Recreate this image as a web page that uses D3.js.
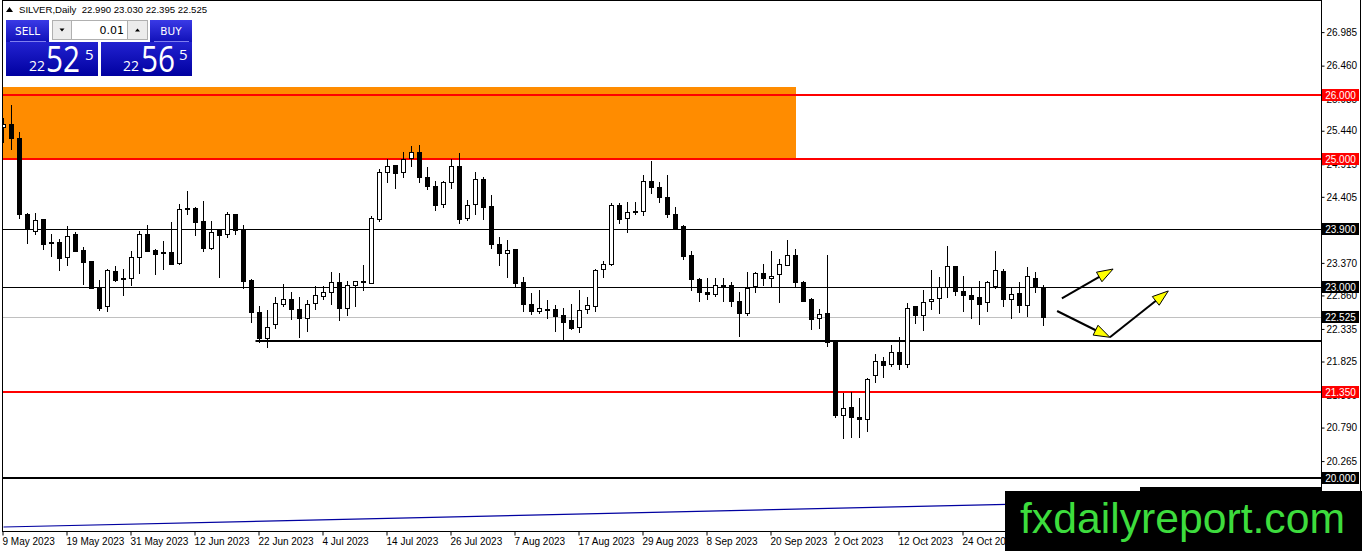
<!DOCTYPE html>
<html><head><meta charset="utf-8">
<script src="https://cdn.jsdelivr.net/npm/d3@7"></script>
<style>body{margin:0;background:#fff;overflow:hidden}svg{display:block}</style>
</head><body>
<svg id="c" width="1362" height="551"></svg>
<script>
// ---------- DATA ----------
const open = [25.50,25.54,25.32,24.14,23.87,24.05,23.69,23.70,23.46,23.82,23.57,23.40,23.00,22.69,23.25,23.13,23.14,23.46,23.82,23.57,
23.54,23.54,23.37,24.23,24.23,24.03,23.61,23.89,23.82,24.13,23.90,23.10,22.60,22.20,22.41,22.73,22.81,22.64,22.50,22.74,
22.85,22.91,23.07,22.67,23.03,23.085,23.06,24.06,24.80,24.90,24.79,25.01,25.10,24.71,24.57,24.29,24.63,24.89,24.07,24.30,
24.69,24.26,23.66,23.52,23.58,23.07,22.73,22.61,22.64,22.64,22.55,22.47,22.36,22.64,22.70,23.27,23.35,24.28,24.07,24.18,
24.18,24.66,24.56,24.40,24.13,23.94,23.49,23.11,22.91,22.88,23.03,23.02,22.78,22.59,23.01,23.21,23.14,23.19,23.34,23.50,
23.07,22.80,22.50,22.58,22.15,20.98,21.11,20.96,20.92,21.61,21.84,21.78,21.98,21.78,22.70,22.56,22.77,22.82,23.00,23.32,
22.93,22.87,22.83,22.75,23.01,23.25,22.80,22.90,22.71,23.13,22.99];
const high = [25.64,25.85,25.42,24.15,24.15,24.05,23.82,23.74,23.94,23.86,23.62,23.40,23.10,23.28,23.32,23.28,23.56,23.87,23.96,23.58,
23.71,24.01,24.29,24.49,24.24,24.34,24.02,23.89,24.17,24.13,23.97,23.12,22.69,22.63,22.83,23.04,22.91,22.84,22.79,23.01,
23.01,23.23,23.21,23.09,23.09,23.34,24.10,24.84,24.99,24.90,25.10,25.20,25.22,24.87,24.66,24.66,25.00,25.09,24.36,24.79,
24.72,24.43,23.78,23.73,23.58,23.15,22.90,22.94,22.79,22.71,22.66,22.73,22.95,22.84,23.28,23.40,24.31,24.31,24.32,24.32,
24.75,24.97,24.64,24.74,24.24,23.96,23.55,23.14,23.13,23.14,23.14,23.07,22.91,23.23,23.23,23.35,23.55,23.43,23.73,23.59,
23.09,22.82,22.65,23.49,22.15,21.33,21.34,21.25,21.57,21.95,21.90,22.08,22.21,22.74,22.70,22.94,23.26,23.15,23.63,23.32,
23.16,23.00,23.09,23.09,23.56,23.28,22.97,23.07,23.31,23.22,23.03];
const low = [25.27,25.15,24.08,23.68,23.82,23.58,23.48,23.26,23.33,23.55,23.04,22.97,22.63,22.62,23.09,22.86,23.03,23.21,23.55,23.19,
23.28,23.35,23.35,24.14,23.81,23.55,23.59,23.15,23.77,23.83,22.97,22.44,22.13,22.06,22.35,22.69,22.49,22.21,22.30,22.64,
22.80,22.72,22.47,22.55,22.70,22.95,23.05,24.03,24.63,24.54,24.71,24.88,24.64,24.53,24.20,24.24,24.54,23.99,24.04,24.14,
24.06,23.60,23.34,23.15,23.01,22.61,22.57,22.58,22.50,22.31,22.15,22.33,22.29,22.58,22.61,23.15,23.34,24.00,23.86,24.14,
24.12,24.47,24.32,24.09,23.91,23.43,22.94,22.78,22.80,22.85,22.78,22.69,22.23,22.55,22.91,23.02,22.99,22.75,23.33,23.00,
22.77,22.33,22.35,22.07,20.96,20.62,20.64,20.65,20.73,21.51,21.59,21.75,21.70,21.74,22.43,22.32,22.64,22.59,22.83,22.87,
22.62,22.51,22.41,22.61,22.98,22.70,22.50,22.60,22.54,22.92,22.395];
const close = [25.54,25.33,24.13,23.90,24.04,23.67,23.68,23.44,23.79,23.56,23.39,22.98,22.67,23.26,23.10,23.12,23.46,23.82,23.55,23.51,
23.53,23.36,24.21,24.21,24.01,23.61,23.86,23.80,24.13,23.88,23.08,22.60,22.20,22.36,22.74,22.80,22.64,22.51,22.72,22.86,
22.91,23.07,22.67,23.02,23.08,23.07,24.07,24.80,24.89,24.78,25.00,25.10,24.71,24.57,24.28,24.63,24.88,24.06,24.27,24.69,
24.24,23.66,23.52,23.57,23.06,22.72,22.62,22.66,22.63,22.54,22.45,22.35,22.63,22.71,23.26,23.35,24.28,24.06,24.17,24.17,
24.65,24.56,24.40,24.13,23.92,23.48,23.11,22.91,22.88,23.03,22.99,22.78,22.58,22.98,23.21,23.14,23.17,23.35,23.50,23.07,
22.78,22.49,22.57,22.13,20.98,21.10,20.95,20.92,21.55,21.84,21.77,21.98,21.78,22.66,22.56,22.75,22.81,23.00,23.32,22.93,
22.86,22.81,22.73,23.07,23.26,22.81,22.89,22.71,23.16,23.00,22.525];

const timeLabels = ["9 May 2023","19 May 2023","31 May 2023","12 Jun 2023","22 Jun 2023","4 Jul 2023","14 Jul 2023",
  "26 Jul 2023","7 Aug 2023","17 Aug 2023","29 Aug 2023","8 Sep 2023","20 Sep 2023","2 Oct 2023","12 Oct 2023","24 Oct 2023"];
const timeLabelBars = [0,8,16,24,32,40,48,56,64,72,80,88,96,104,112,120];
const priceTicks = [26.985,26.460,25.935,25.440,24.915,24.405,23.370,22.860,22.335,21.825,21.300,20.790,20.265];

const redLevels = [26.000, 25.000, 21.350];
const blackLevels = [23.900, 23.000];
const thickLevels = [20.000];
const bidPrice = 22.525;
const supportPrice = 22.15, supportStartBar = 31.5;
const zoneTop = 26.13, zoneBottom = 25.0, zoneEndBar = 99;
const maBars = [0, 130], maValues = [19.232, 19.60];
const arrowFromBar = [132.3, 131.7, 138.3], arrowFromPrice = [22.815, 22.616, 22.204];
const arrowToBar   = [138.7, 138.3, 145.6], arrowToPrice   = [23.274, 22.204, 22.930];
const header = "SILVER,Daily  22.990 23.030 22.395 22.525";
const lotSize = "0.01";
const sellBig = ["22","52","5"], buyBig = ["22","56","5"];
const watermark = "fxdailyreport.com";

// ---------- SCALES ----------
const W = 1362, H = 551;
const plotL = 2, plotR = 1321, plotT = 0, plotB = 531;
const x = d3.scaleLinear().domain([0,130]).range([3.5,1043.5]);
const y = d3.scaleLinear().domain([20,26]).range([478,95]);
const svg = d3.select("#c");
const FONT = "'Liberation Sans', Arial, sans-serif";

svg.append("rect").attr("width",W).attr("height",H).attr("fill","#fff");
const defs = svg.append("defs");
defs.append("clipPath").attr("id","plot").append("rect")
  .attr("x",plotL+1).attr("y",plotT+1).attr("width",plotR-plotL-1).attr("height",plotB-plotT-1);
const g1 = defs.append("linearGradient").attr("id","btn").attr("x1",0).attr("y1",0).attr("x2",0).attr("y2",1);
g1.append("stop").attr("offset","0").attr("stop-color","#3a3ae6");
g1.append("stop").attr("offset","1").attr("stop-color","#1010b8");
const g2 = defs.append("linearGradient").attr("id","big").attr("x1",0).attr("y1",0).attr("x2",0).attr("y2",1);
g2.append("stop").attr("offset","0").attr("stop-color","#2222d0");
g2.append("stop").attr("offset","1").attr("stop-color","#0000a0");

const plot = svg.append("g").attr("clip-path","url(#plot)");

// zone
plot.append("rect")
  .attr("x", plotL).attr("y", Math.round(y(zoneTop)))
  .attr("width", Math.round(x(zoneEndBar)) - plotL)
  .attr("height", Math.round(y(zoneBottom)) - Math.round(y(zoneTop)))
  .attr("fill","#ff8c00");

// MA line
plot.append("path")
  .attr("d", d3.line().x((d,i)=>x(d)).y((d,i)=>y(maValues[i]))(maBars))
  .attr("fill","none").attr("stroke","#0000a0").attr("stroke-width",1.2);

// horizontal levels
const hline = (p, color, w, x0) => plot.append("line")
  .attr("x1", x0 === undefined ? plotL : x0).attr("x2", plotR)
  .attr("y1", w%2 ? Math.round(y(p))+0.5 : Math.round(y(p)))
  .attr("y2", w%2 ? Math.round(y(p))+0.5 : Math.round(y(p)))
  .attr("stroke", color).attr("stroke-width", w);
hline(bidPrice, "#c0c0c0", 1);
blackLevels.forEach(p => hline(p, "#000", 1));
thickLevels.forEach(p => hline(p, "#000", 2));
hline(supportPrice, "#000", 2, x(supportStartBar));
redLevels.forEach(p => hline(p, "#ff0000", 2));

// candles
const idx = d3.range(open.length);
const cx = i => Math.round(x(i)-0.5)+0.5;
plot.append("g").selectAll("line").data(idx).join("line")
  .attr("x1", cx).attr("x2", cx)
  .attr("y1", i => Math.round(y(high[i]))).attr("y2", i => Math.round(y(low[i]))+1)
  .attr("stroke","#000").attr("stroke-width",1);
plot.append("g").selectAll("rect").data(idx).join("rect")
  .attr("x", i => cx(i)-2).attr("width", 4)
  .attr("y", i => Math.round(y(Math.max(open[i],close[i])))+0.5)
  .attr("height", i => Math.max(1, Math.round(y(Math.min(open[i],close[i]))) - Math.round(y(Math.max(open[i],close[i])))))
  .attr("fill", i => close[i] >= open[i] ? "#fff" : "#000")
  .attr("stroke","#000").attr("stroke-width",1);

// arrows
arrowFromBar.forEach((b,i) => {
  const x1 = x(b), y1 = y(arrowFromPrice[i]), x2 = x(arrowToBar[i]), y2 = y(arrowToPrice[i]);
  const a = Math.atan2(y2-y1, x2-x1), L = 16, hw = 5.5;
  const bx = x2 - L*Math.cos(a), by = y2 - L*Math.sin(a);
  svg.append("line").attr("x1",x1).attr("y1",y1).attr("x2",bx+3*Math.cos(a)).attr("y2",by+3*Math.sin(a))
    .attr("stroke","#000").attr("stroke-width",2);
  svg.append("path")
    .attr("d", `M${x2},${y2}L${bx - hw*Math.sin(a)},${by + hw*Math.cos(a)}L${bx + hw*Math.sin(a)},${by - hw*Math.cos(a)}Z`)
    .attr("fill","#ffff00").attr("stroke","#000").attr("stroke-width",1).attr("stroke-linejoin","miter");
});

// frame
svg.append("rect").attr("x",plotL+0.5).attr("y",plotT+0.5).attr("width",plotR-plotL).attr("height",plotB-plotT)
  .attr("fill","none").attr("stroke","#000");
svg.append("line").attr("x1",W-1.5).attr("x2",W-1.5).attr("y1",0).attr("y2",H).attr("stroke","#000");

// right axis
const ay = svg.append("g").attr("transform",`translate(${plotR+0.5},0)`)
  .call(d3.axisRight(y).tickValues(priceTicks).tickSize(3).tickPadding(2).tickFormat(d3.format(".3f")));
ay.select(".domain").remove();
ay.selectAll("text").attr("font-family",FONT).attr("font-size",10).attr("fill","#000");
ay.selectAll("line").attr("stroke","#000");

// level labels
const label = (p, bg) => {
  const yy = Math.round(y(p));
  svg.append("rect").attr("x",plotR+1).attr("y",yy-6).attr("width",37).attr("height",12).attr("fill",bg);
  svg.append("text").attr("x",plotR+19.5).attr("y",yy).attr("dy","0.35em").attr("text-anchor","middle")
    .attr("font-family",FONT).attr("font-size",10).attr("fill","#fff").text(d3.format(".3f")(p));
};
redLevels.forEach(p => label(p, "#ff0000"));
blackLevels.forEach(p => label(p, "#000"));
thickLevels.forEach(p => label(p, "#000"));
label(bidPrice, "#000");

// bottom axis
const ax = svg.append("g").attr("transform",`translate(0,${plotB+0.5})`)
  .call(d3.axisBottom(x).tickValues(timeLabelBars).tickSize(4).tickPadding(2).tickFormat((d,i)=>timeLabels[i]));
ax.select(".domain").remove();
ax.selectAll("line").attr("stroke","#000").attr("transform","translate(-1,0)");
ax.selectAll("text").attr("font-family",FONT).attr("font-size",10).attr("fill","#000")
  .attr("text-anchor","start").attr("dx",-1.5);

// header
svg.append("path").attr("d","M6,12L9.5,7L13,12Z").attr("fill","#000");
svg.append("text").attr("x",19).attr("y",13).attr("font-family",FONT).attr("font-size",9.6).attr("fill","#000")
  .attr("xml:space","preserve").style("white-space","pre").text(header);

// trading panel
const panel = svg.append("g");
panel.append("rect").attr("x",6).attr("y",20).attr("width",43).attr("height",22).attr("fill","url(#btn)");
panel.append("rect").attr("x",150).attr("y",20).attr("width",42).attr("height",22).attr("fill","url(#btn)");
panel.append("text").attr("x",27.5).attr("y",31).attr("dy","0.35em").attr("text-anchor","middle")
  .attr("font-family","'DejaVu Sans', sans-serif").attr("font-size",10.5).attr("fill","#fff").text("SELL");
panel.append("text").attr("x",171).attr("y",31).attr("dy","0.35em").attr("text-anchor","middle")
  .attr("font-family","'DejaVu Sans', sans-serif").attr("font-size",10.5).attr("fill","#fff").text("BUY");
panel.append("rect").attr("x",52.5).attr("y",20.5).attr("width",19).attr("height",19).attr("fill","#ececec").attr("stroke","#b0b0b0");
panel.append("rect").attr("x",71.5).attr("y",20.5).attr("width",56).attr("height",19).attr("fill","#fff").attr("stroke","#b0b0b0");
panel.append("rect").attr("x",127.5).attr("y",20.5).attr("width",20).attr("height",19).attr("fill","#ececec").attr("stroke","#b0b0b0");
panel.append("path").attr("d","M59.5,28.5L64.5,28.5L62,31.5Z").attr("fill","#000");
panel.append("path").attr("d","M135,31.5L140,31.5L137.5,28.5Z").attr("fill","#000");
panel.append("text").attr("x",124).attr("y",30).attr("dy","0.35em").attr("text-anchor","end")
  .attr("font-family","'DejaVu Sans', sans-serif").attr("font-size",11).attr("fill","#000").text(lotSize);
panel.append("rect").attr("x",6).attr("y",42).attr("width",92).attr("height",34).attr("fill","url(#big)");
panel.append("rect").attr("x",101).attr("y",42).attr("width",91).attr("height",34).attr("fill","url(#big)");
panel.append("line").attr("x1",10).attr("x2",46).attr("y1",41.5).attr("y2",41.5).attr("stroke","#7f7ff0");
panel.append("line").attr("x1",154).attr("x2",189).attr("y1",41.5).attr("y2",41.5).attr("stroke","#7f7ff0");
const bigFont = "'Open Sans', 'Liberation Sans', sans-serif";
[[sellBig,29,46,85],[buyBig,123,141,179]].forEach(([t,x1,x2,x3]) => {
  panel.append("text").attr("x",x1).attr("y",71).attr("font-family",bigFont).attr("font-size",14).attr("fill","#fff").text(t[0]);
  panel.append("text").attr("x",x2).attr("y",72).attr("font-family",bigFont).attr("font-size",36)
    .attr("textLength",34).attr("lengthAdjust","spacingAndGlyphs").attr("fill","#fff").text(t[1]);
  panel.append("text").attr("x",x3).attr("y",60).attr("font-family",bigFont).attr("font-size",15).attr("fill","#fff").text(t[2]);
});

// watermark
svg.append("rect").attr("x",1005).attr("y",491).attr("width",W-1005).attr("height",H-491).attr("fill","#000");
svg.append("rect").attr("x",1140).attr("y",487).attr("width",plotR-1140).attr("height",5).attr("fill","#000");
svg.append("text").attr("x",1020).attr("y",533).attr("font-family",FONT).attr("font-size",42)
  .attr("textLength",325).attr("lengthAdjust","spacingAndGlyphs").attr("fill","#3ddc3d").text(watermark);
</script>
</body></html>
